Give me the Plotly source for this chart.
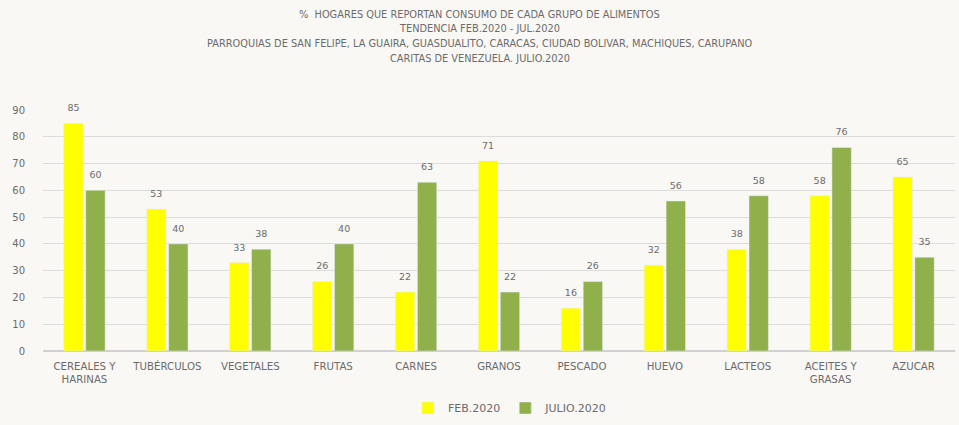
import plotly.graph_objects as go

categories = ["CEREALES Y<br>HARINAS", "TUBÉRCULOS", "VEGETALES", "FRUTAS", "CARNES",
              "GRANOS", "PESCADO", "HUEVO", "LACTEOS", "ACEITES Y<br>GRASAS", "AZUCAR"]
feb_2020 = [85, 53, 33, 26, 22, 71, 16, 32, 38, 58, 65]
julio_2020 = [60, 40, 38, 40, 63, 22, 26, 56, 58, 76, 35]
y_ticks = [0, 10, 20, 30, 40, 50, 60, 70, 80, 90]

title_lines = [
    "%  HOGARES QUE REPORTAN CONSUMO DE CADA GRUPO DE ALIMENTOS",
    "TENDENCIA FEB.2020 - JUL.2020",
    "PARROQUIAS DE SAN FELIPE, LA GUAIRA, GUASDUALITO, CARACAS, CIUDAD BOLIVAR, MACHIQUES, CARUPANO",
    "CARITAS DE VENEZUELA. JULIO.2020",
]

font_family = "DejaVu Sans, Verdana, sans-serif"
gray = "#6b6b6b"

fig = go.Figure()
for name, vals, color in [("FEB.2020", feb_2020, "#FFFF00"), ("JULIO.2020", julio_2020, "#8FB04B")]:
    fig.add_trace(go.Bar(name=name, x=categories, y=vals, marker_color=color))
for name, vals in [("FEB.2020", feb_2020), ("JULIO.2020", julio_2020)]:
    fig.add_trace(go.Scatter(
        x=categories, y=vals, text=vals, mode="markers+text", textposition="top center",
        marker=dict(size=14, opacity=0), showlegend=False, hoverinfo="skip",
        cliponaxis=False, textfont=dict(size=9.5, color=gray, family=font_family),
    ))

for i, line in enumerate(title_lines):
    fig.add_annotation(
        text=line, xref="paper", yref="paper", x=0.479, y=1, yshift=96 - i * 14.7,
        showarrow=False, xanchor="center", yanchor="middle",
        font=dict(size=9.8, color=gray, family=font_family),
    )

fig.update_layout(
    width=959, height=425,
    margin=dict(l=43, r=4, t=110, b=74),
    paper_bgcolor="#FAF8F5", plot_bgcolor="#FAF8F5",
    barmode="group", bargap=0.47, bargroupgap=0.12,
    scattermode="group", scattergap=0.47,
    showlegend=True,
    legend=dict(orientation="h", x=0.512, xanchor="center",
                yref="container", y=0.04, yanchor="middle",
                font=dict(size=11, color=gray, family=font_family),
                itemwidth=30, tracegroupgap=0, bgcolor="rgba(0,0,0,0)"),
    font=dict(family=font_family, color=gray),
)
fig.update_yaxes(range=[0, 90], tickvals=y_ticks, showgrid=True, gridcolor="#dcdcdc",
                 gridwidth=1, zeroline=True, zerolinecolor="#d0d0d0",
                 tickfont=dict(size=10, color=gray), ticks="", ticklen=0,
                 ticklabelstandoff=17)
fig.update_xaxes(tickfont=dict(size=10.2, color=gray), showline=False, ticks="",
                 ticklabelstandoff=8)

fig.write_html("out.html")
